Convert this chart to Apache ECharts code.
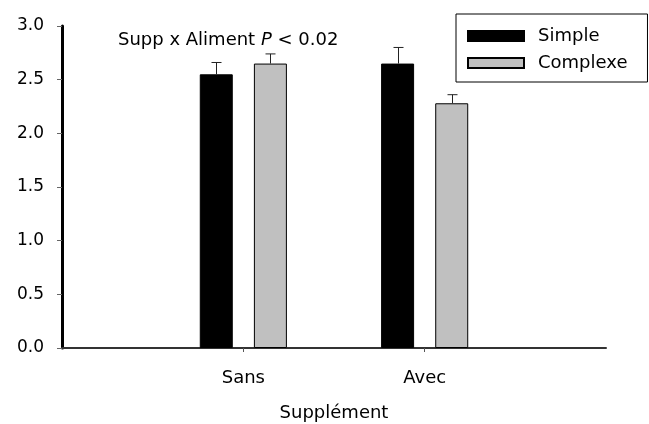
<!DOCTYPE html>
<html>
<head>
<meta charset="utf-8">
<script src="https://cdn.jsdelivr.net/npm/echarts@6/dist/echarts.min.js"></script>
<style>
html,body{margin:0;padding:0;background:#fff}
#chart{width:649px;height:424px}
</style>
</head>
<body>
<div id="chart"></div>
<script>
// padded with empty categories so Sans / Avec sit at 1/3 and 2/3 of the axis
const categories = ['', 'Sans', 'Avec', '']
const groups = ['Sans', 'Avec']
const simpleMeans = [2.55, 2.65]
const simpleErr = [0.11, 0.15]
const complexeMeans = [2.65, 2.28]
const complexeErr = [0.09, 0.08]
const yTicks = [0, 0.5, 1, 1.5, 2, 2.5, 3]

const FONT = 'DejaVu Sans'
const barWidth = 33
const barGapPct = 64
const halfStep = (barWidth + barWidth * barGapPct / 100) / 2

let chart = echarts.init(document.getElementById('chart'))

const padded = arr => ['-', ...arr, '-']
const errData = (means, errs) => means.map((m, i) => [categories.indexOf(groups[i]), m, errs[i]])

const errSeries = (name, means, errs, shift) => ({
    type: 'custom',
    name: name + ' err',
    z: 3,
    silent: true,
    encode: {x: 0, y: 1},
    data: errData(means, errs),
    renderItem: (params, api) => {
        let base = api.coord([api.value(0), api.value(1)])
        let top = api.coord([api.value(0), api.value(1) + api.value(2)])
        let x = Math.round(base[0] + shift) + 0.5
        let style = {stroke: '#222', lineWidth: 1}
        return {
            type: 'group',
            children: [
                {type: 'line', shape: {x1: x, y1: base[1], x2: x, y2: top[1]}, style},
                {type: 'line', shape: {x1: x - 5, y1: top[1], x2: x + 5, y2: top[1]}, style}
            ]
        }
    }
})

let option = {
    animation: false,
    backgroundColor: '#fff',
    textStyle: {fontFamily: FONT},
    grid: {left: 62, right: 43, top: 26, bottom: 76, outerBoundsMode: 'none', containLabel: false},
    legend: {
        data: ['Simple', 'Complexe'],
        orient: 'vertical',
        icon: 'rect',
        left: 456,
        top: 14,
        padding: [13, 20, 10, 11],
        borderColor: '#000',
        borderWidth: 1,
        itemWidth: 56,
        itemHeight: 10,
        itemGap: 9,
        selectedMode: false,
        textStyle: {fontFamily: FONT, fontSize: 18, color: '#000', padding: [0, 0, 0, 9]}
    },
    graphic: [{
        type: 'text',
        left: 118,
        top: 31,
        style: {
            text: '{a|Supp x Aliment }{p|P}{a| < 0.02}',
            rich: {
                a: {fontFamily: FONT, fontSize: 18, fill: '#000'},
                p: {fontFamily: FONT, fontSize: 18, fontStyle: 'italic', fill: '#000'}
            }
        }
    }],
    xAxis: {
        type: 'category',
        data: categories,
        boundaryGap: false,
        name: 'Supplément',
        nameLocation: 'middle',
        nameGap: 56,
        nameTextStyle: {fontFamily: FONT, fontSize: 18, color: '#000'},
        axisLine: {lineStyle: {color: '#333', width: 2}},
        axisTick: {length: 4, interval: (i) => categories[i] !== '', lineStyle: {color: '#555'}},
        axisLabel: {fontFamily: FONT, fontSize: 18, color: '#000', margin: 21, interval: 0},
        splitLine: {show: false}
    },
    yAxis: {
        type: 'value',
        min: yTicks[0],
        max: yTicks[yTicks.length - 1],
        interval: 0.5,
        axisLine: {show: true, lineStyle: {color: '#000', width: 3}},
        axisTick: {show: true, length: 5, lineStyle: {color: '#666'}},
        axisLabel: {fontFamily: FONT, fontSize: 17, color: '#000', margin: 18, formatter: v => v.toFixed(1)},
        splitLine: {show: false}
    },
    series: [
        {
            name: 'Simple',
            type: 'bar',
            barWidth: barWidth,
            barGap: barGapPct + '%',
            data: padded(simpleMeans),
            itemStyle: {color: '#000', borderColor: '#000', borderWidth: 1}
        },
        {
            name: 'Complexe',
            type: 'bar',
            barWidth: barWidth,
            data: padded(complexeMeans),
            itemStyle: {color: '#c0c0c0', borderColor: '#000', borderWidth: 1}
        },
        errSeries('Simple', simpleMeans, simpleErr, -halfStep),
        errSeries('Complexe', complexeMeans, complexeErr, halfStep)
    ]
}
chart.setOption(option)
</script>
</body>
</html>
